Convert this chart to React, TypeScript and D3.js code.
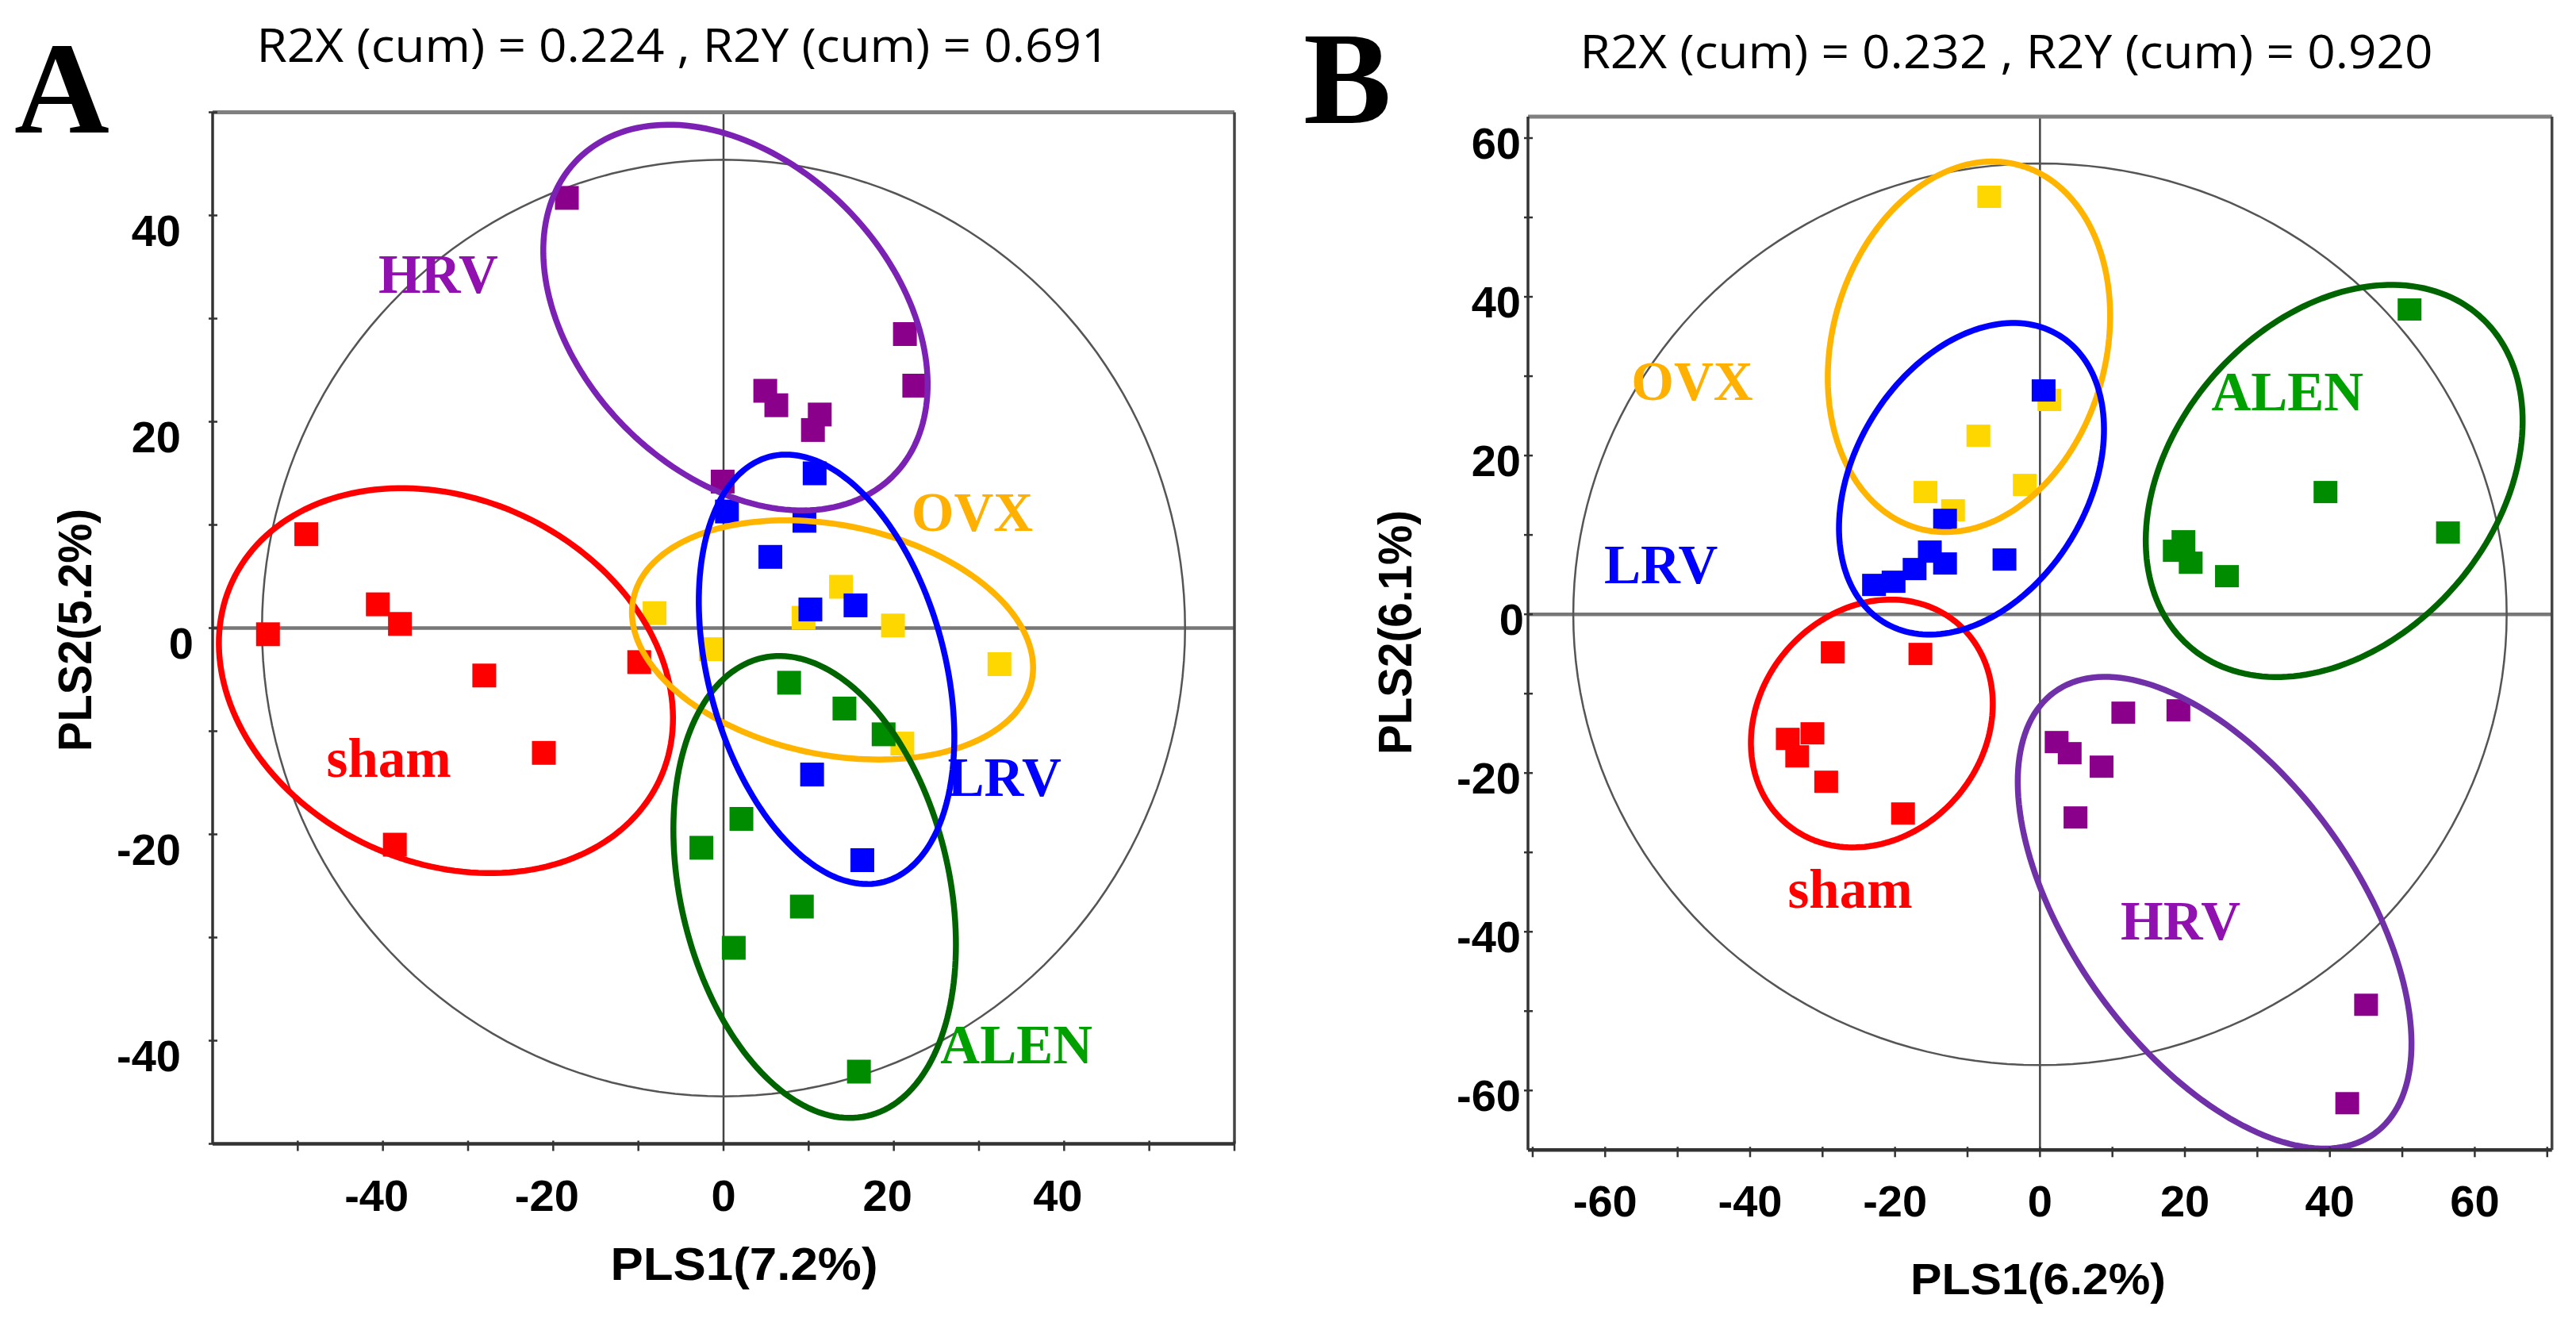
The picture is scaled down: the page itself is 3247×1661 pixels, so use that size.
import React from "react";
import * as d3 from "d3";

type Pt = [number, number];
type Ell = { c: Pt; u: Pt; v: Pt; color: string };
type Lab = { text: string; at: Pt; color: string };

// ---------- Panel A : PLS-DA scores ----------
const shamA: Pt[] = [[-49, 9.1], [-40.6, 2.3], [-38, 0.4], [-53.5, -0.6], [-28.1, -4.6], [-9.9, -3.3], [-21.1, -12.1], [-38.6, -21]];
const ovxA: Pt[] = [[-8.1, 1.45], [13.8, 4.0], [9.4, 1.0], [19.9, 0.25], [-1.5, -2.05], [32.4, -3.5], [21, -11.2]];
const lrvA: Pt[] = [[10.7, 15], [0.4, 11.3], [9.5, 10.4], [5.5, 6.9], [10.2, 1.8], [15.5, 2.2], [10.4, -14.2], [16.3, -22.5]];
const hrvA: Pt[] = [[-18.4, 41.7], [21.3, 28.5], [22.4, 23.5], [4.9, 23], [6.2, 21.6], [11.3, 20.7], [10.5, 19.2], [-0.1, 14.2]];
const alenA: Pt[] = [[7.7, -5.3], [14.2, -7.8], [18.8, -10.3], [2.1, -18.5], [-2.6, -21.3], [9.2, -27], [1.2, -31], [15.9, -43]];

// confidence ellipses: centre, conjugate semi-axes (data units)
const ellipsesA: Ell[] = [
  { c: [-32.6, -5.1], u: [25.1, -9.6], v: [-9.0, -16.0], color: "#ff0000" },
  { c: [12.8, -1.15], u: [23.4, -3.96], v: [-2.7, -10.9], color: "#ffb400" },
  { c: [10.7, -25.1], u: [6.17, -22.2], v: [-15.4, -2.9], color: "#006400" },
  { c: [1.4, 30.1], u: [18.45, -15.4], v: [-13.0, -10.6], color: "#7b22b4" },
  { c: [12.1, -4.0], u: [6.75, -20.6], v: [-13.4, -3.0], color: "#0000ff" },
];
const hotellingA: Pt = [54.2, 45.4];
const labelsA: Lab[] = [
  { text: "HRV", at: [-33.5, 34.3], color: "#9010b0" },
  { text: "OVX", at: [29.2, 11.2], color: "#ffb000" },
  { text: "sham", at: [-39.3, -12.65], color: "#ff0000" },
  { text: "LRV", at: [33, -14.5], color: "#0000ff" },
  { text: "ALEN", at: [34.4, -40.4], color: "#00a000" },
];
const ticksXA = d3.range(-50, 61, 10);
const ticksYA = d3.range(-50, 51, 10);
const labelsXA = [-40, -20, 0, 20, 40];
const labelsYA = [-40, -20, 0, 20, 40];

// ---------- Panel B ----------
const shamB: Pt[] = [[-28.6, -4.8], [-16.5, -5.0], [-34.8, -15.7], [-31.4, -15.0], [-33.5, -17.9], [-29.5, -21.1], [-18.9, -25.1]];
const ovxB: Pt[] = [[-7, 52.6], [1.3, 27], [-8.5, 22.5], [-2.1, 16.3], [-15.8, 15.4], [-12, 13.1]];
const lrvB: Pt[] = [[0.5, 28.2], [-13.1, 11.9], [-15.2, 7.9], [-13.1, 6.4], [-4.9, 6.9], [-17.3, 5.7], [-20.2, 4.1], [-22.9, 3.7]];
const hrvB: Pt[] = [[11.5, -12.4], [19.1, -12.1], [2.3, -16.1], [4.1, -17.5], [8.5, -19.2], [4.9, -25.6], [45, -49.2], [42.4, -61.6]];
const alenB: Pt[] = [[51, 38.4], [39.4, 15.4], [56.3, 10.3], [18.6, 8.0], [19.8, 9.2], [20.8, 6.5], [25.8, 4.8]];

const ellipsesB: Ell[] = [
  { c: [-23.2, -13.76], u: [11.89, 12.56], v: [11.71, -9.27], color: "#ff0000" },
  { c: [-9.8, 33.7], u: [7.03, 22.87], v: [18.17, -4.67], color: "#ffb400" },
  { c: [40.6, 16.8], u: [20.05, 20.79], v: [16.56, -13.35], color: "#006400" },
  { c: [24.1, -37.6], u: [22.1, -27.8], v: [-15.8, -10.5], color: "#7030a8" },
  { c: [-9.45, 17.07], u: [12.12, 18.06], v: [13.69, -7.69], color: "#0000ff" },
];
const hotellingB: Pt = [64.4, 56.8];
const labelsB: Lab[] = [
  { text: "OVX", at: [-48.0, 29.3], color: "#ffb000" },
  { text: "LRV", at: [-52.3, 6.2], color: "#0000ff" },
  { text: "ALEN", at: [34.15, 28.0], color: "#00a000" },
  { text: "sham", at: [-26.2, -34.7], color: "#ff0000" },
  { text: "HRV", at: [19.4, -38.7], color: "#9010b0" },
];
const ticksXB = d3.range(-70, 71, 10);
const ticksYB = d3.range(-60, 61, 10);
const labelsXB = [-60, -40, -20, 0, 20, 40, 60];
const labelsYB = [-60, -40, -20, 0, 20, 40, 60];

const COLORS = { sham: "#ff0000", ovx: "#ffd700", lrv: "#0000ff", hrv: "#8b008b", alen: "#008c00" };

type PanelProps = {
  xDomain: Pt; yDomain: Pt;
  left: number; right: number; top: number; bottom: number;
  ticksX: number[]; ticksY: number[]; labelsX: number[]; labelsY: number[];
  series: { pts: Pt[]; color: string }[];
  ellipses: Ell[]; hull: Pt; labels: Lab[];
  title: string; titleX: number; titleY: number;
  letter: string; letterX: number; letterY: number;
  xTitle: string; xTitleX: number; xTitleY: number; xTitleLen: number; xTitleSize: number;
  yTitle: string; yTitleX: number; yTitleY: number; yTitleLen: number;
  yLabRight: number; yLabDy: number; yZeroShift: number; xLabBase: number; xLabShift: number;
  sqW: number; sqH: number;
};

function Panel(p: PanelProps) {
  const x = d3.scaleLinear().domain(p.xDomain).range([p.left, p.right]);
  const y = d3.scaleLinear().domain(p.yDomain).range([p.bottom, p.top]);
  const ts = d3.range(0, 2 * Math.PI, Math.PI / 90);
  const ellPath = (e: Ell) =>
    d3.line<number>()
      .x((t) => x(e.c[0] + e.u[0] * Math.cos(t) + e.v[0] * Math.sin(t)))
      .y((t) => y(e.c[1] + e.u[1] * Math.cos(t) + e.v[1] * Math.sin(t)))
      .curve(d3.curveLinearClosed)(ts) as string;
  const hullEll: Ell = { c: [0, 0], u: [p.hull[0], 0], v: [0, p.hull[1]], color: "#555" };
  const tickFont = "'Liberation Sans', Arial, sans-serif";
  return (
    <g>
      <text x={p.letterX} y={p.letterY} fontFamily="'Liberation Serif', 'Times New Roman', serif" fontWeight="bold" fontSize={166}>{p.letter}</text>
      <text x={p.titleX} y={p.titleY} textAnchor="middle" fontFamily="'Open Sans', sans-serif" fontSize={58} textLength={1075} lengthAdjust="spacingAndGlyphs">{p.title}</text>
      {/* zero lines */}
      <line x1={p.left} x2={p.right} y1={y(0)} y2={y(0)} stroke="#777" strokeWidth={4.5} />
      <line x1={x(0)} x2={x(0)} y1={p.top} y2={p.bottom} stroke="#444" strokeWidth={2.5} />
      {/* hotelling ellipse */}
      <path d={ellPath(hullEll)} fill="none" stroke="#555" strokeWidth={2.5} />
      {/* points */}
      {p.series.map((s, i) => (
        <g key={i}>
          {s.pts.map((d, j) => (
            <rect key={j} x={x(d[0]) - p.sqW / 2} y={y(d[1]) - p.sqH / 2} width={p.sqW} height={p.sqH} fill={s.color} />
          ))}
        </g>
      ))}
      {/* group ellipses */}
      {p.ellipses.map((e, i) => (
        <path key={i} d={ellPath(e)} fill="none" stroke={e.color} strokeWidth={7.5} />
      ))}
      {/* group labels */}
      {p.labels.map((l, i) => (
        <text key={i} x={x(l.at[0])} y={y(l.at[1]) + 23} textAnchor="middle" fill={l.color}
          fontFamily="'Liberation Serif', 'Times New Roman', serif" fontWeight="bold" fontSize={69}>{l.text}</text>
      ))}
      {/* frame */}
      <line x1={p.left} x2={p.right} y1={p.top} y2={p.top} stroke="#808080" strokeWidth={5} />
      <line x1={p.right} x2={p.right} y1={p.top} y2={p.bottom} stroke="#444" strokeWidth={3.5} />
      <line x1={p.left} x2={p.left} y1={p.top} y2={p.bottom} stroke="#333" strokeWidth={3.5} />
      <line x1={p.left} x2={p.right} y1={p.bottom} y2={p.bottom} stroke="#333" strokeWidth={4.5} />
      {p.ticksX.map((t) => (
        <line key={"tx" + t} x1={x(t)} x2={x(t)} y1={p.bottom - 4} y2={p.bottom + 9} stroke="#333" strokeWidth={2.5} />
      ))}
      {p.ticksY.map((t) => (
        <line key={"ty" + t} x1={p.left - 5} x2={p.left + 6} y1={y(t)} y2={y(t)} stroke="#333" strokeWidth={2.5} />
      ))}
      {p.labelsX.map((t) => (
        <text key={"lx" + t} x={x(t) + (t === 0 ? 0 : p.xLabShift)} y={p.xLabBase} textAnchor="middle"
          fontFamily={tickFont} fontWeight="bold" fontSize={56}>{t}</text>
      ))}
      {p.labelsY.map((t) => (
        <text key={"ly" + t} x={p.yLabRight + (t === 0 ? p.yZeroShift : 0)} y={y(t) + p.yLabDy} textAnchor="end"
          fontFamily={tickFont} fontWeight="bold" fontSize={56}>{t}</text>
      ))}
      <text x={p.xTitleX} y={p.xTitleY} textAnchor="middle" fontFamily={tickFont} fontWeight="bold"
        fontSize={p.xTitleSize} textLength={p.xTitleLen} lengthAdjust="spacingAndGlyphs">{p.xTitle}</text>
      <text transform={`translate(${p.yTitleX},${p.yTitleY}) rotate(-90)`} textAnchor="middle" fontFamily={tickFont}
        fontWeight="bold" fontSize={60} textLength={p.yTitleLen} lengthAdjust="spacingAndGlyphs">{p.yTitle}</text>
    </g>
  );
}

export default function App() {
  return (
    <svg width={3247} height={1661} viewBox="0 0 3247 1661"
      style={{ position: "absolute", left: 0, top: 0, background: "#fff", display: "block" }}>
      <rect x={0} y={0} width={3247} height={1661} fill="#fff" />
      <Panel
        xDomain={[-60, 60]} yDomain={[-50, 50]}
        left={268} right={1556} top={141.5} bottom={1441.5}
        ticksX={ticksXA} ticksY={ticksYA} labelsX={labelsXA} labelsY={labelsYA}
        series={[
          { pts: ovxA, color: COLORS.ovx },
          { pts: alenA, color: COLORS.alen },
          { pts: lrvA, color: COLORS.lrv },
          { pts: shamA, color: COLORS.sham },
          { pts: hrvA, color: COLORS.hrv },
        ]}
        ellipses={ellipsesA} hull={hotellingA} labels={labelsA}
        title="R2X (cum) = 0.224 , R2Y (cum) = 0.691" titleX={861} titleY={78}
        letter="A" letterX={18} letterY={167}
        xTitle="PLS1(7.2%)" xTitleX={938} xTitleY={1613} xTitleLen={337} xTitleSize={58}
        yTitle="PLS2(5.2%)" yTitleX={115} yTitleY={794} yTitleLen={306}
        yLabRight={228} yLabDy={38} yZeroShift={16} xLabBase={1526} xLabShift={-8}
        sqW={30} sqH={30}
      />
      <Panel
        xDomain={[-70.65, 70.65]} yDomain={[-67.5, 62.7]}
        left={1926} right={3216.7} top={147} bottom={1449.3}
        ticksX={ticksXB} ticksY={ticksYB} labelsX={labelsXB} labelsY={labelsYB}
        series={[
          { pts: ovxB, color: COLORS.ovx },
          { pts: alenB, color: COLORS.alen },
          { pts: lrvB, color: COLORS.lrv },
          { pts: shamB, color: COLORS.sham },
          { pts: hrvB, color: COLORS.hrv },
        ]}
        ellipses={ellipsesB} hull={hotellingB} labels={labelsB}
        title="R2X (cum) = 0.232 , R2Y (cum) = 0.920" titleX={2529} titleY={86}
        letter="B" letterX={1643} letterY={155}
        xTitle="PLS1(6.2%)" xTitleX={2569} xTitleY={1631} xTitleLen={322} xTitleSize={56}
        yTitle="PLS2(6.1%)" yTitleX={1779} yTitleY={797} yTitleLen={308}
        yLabRight={1917} yLabDy={26} yZeroShift={4} xLabBase={1533} xLabShift={0}
        sqW={30} sqH={28}
      />
    </svg>
  );
}
